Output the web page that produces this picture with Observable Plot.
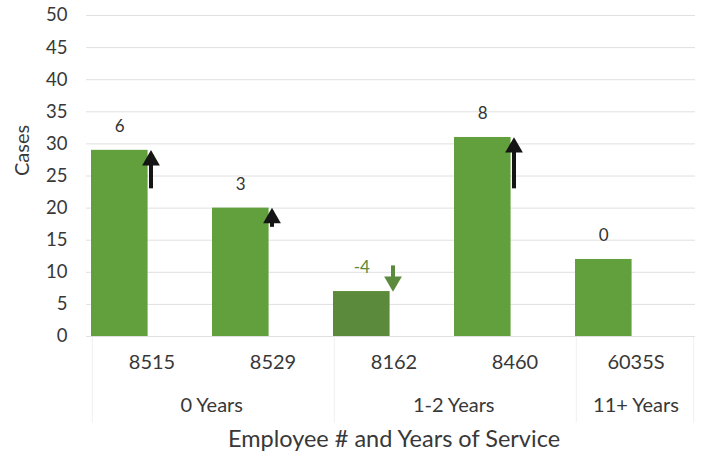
<!DOCTYPE html>
<html><head><meta charset="utf-8">
<script src="https://cdn.jsdelivr.net/npm/d3@7"></script>
<script src="https://cdn.jsdelivr.net/npm/@observablehq/plot@0.6"></script>
<style>body{margin:0;background:#fff;}</style>
</head><body><div id="chart"></div>
<script>
const employees = ["8515", "8529", "8162", "8460", "6035S"];
const cases = [29, 20, 7, 31, 12];
const changes = [6, 3, -4, 8, 0];
const groups = ["0 Years", "0 Years", "1-2 Years", "1-2 Years", "11+ Years"];
const groupNames = ["0 Years", "1-2 Years", "11+ Years"];
const yTicks = [0, 5, 10, 15, 20, 25, 30, 35, 40, 45, 50];
const xTitle = "Employee # and Years of Service";
const yTitle = "Cases";

const green = "#62a03d";
const darkGreen = "#5b8a3c";
const textColor = "#383838";

const rows = employees.map((e, i) => ({employee: e, cases: cases[i], change: changes[i], group: groups[i]}));

const W = 701, H = 464, mL = 89, mR = 3, mT = 15, mB = 128;
const xs = Plot.scale({x: {type: "band", domain: employees, range: [mL, W - mR]}});
const step = xs.step;
const barW = 55;
const shift = -(step - barW) / 2;

const groupMarks = groupNames.map(g => {
  const members = rows.filter(r => r.group === g);
  return Plot.text([g], {
    x: () => members[0].employee, text: d => d,
    frameAnchor: "bottom", dx: (members.length - 1) * step / 2, dy: 75,
    fontSize: 20, fill: textColor
  });
});

const bounds = groupNames.map(g => rows.find(r => r.group === g).employee);

const plot = Plot.plot({
  width: W, height: H,
  marginLeft: mL, marginRight: mR, marginTop: mT, marginBottom: mB,
  style: {fontFamily: "Lato, 'Open Sans', sans-serif", color: textColor, background: "#fff"},
  x: {domain: employees, padding: 0},
  y: {domain: [0, 50]},
  marks: [
    Plot.ruleY(yTicks, {stroke: "#e0e0e0", strokeWidth: 1, dx: -3}),
    Plot.ruleX(bounds, {x: d => d, dx: -step / 2, y1: -0.15, y2: -13.5, stroke: "#f0f0f0"}),
    Plot.ruleX([employees[employees.length - 1]], {x: d => d, dx: step / 2 - 2, y1: -0.15, y2: -13.5, stroke: "#f0f0f0"}),
    Plot.barY(rows, {x: "employee", y: "cases", fill: d => d.change < 0 ? darkGreen : green, insetLeft: 0, insetRight: step - barW}),
    Plot.text(rows, {x: "employee", y: "cases", text: d => String(d.change), dx: shift, dy: -24,
      fontSize: 17, fill: d => d.change < 0 ? darkGreen : "#333"}),
    Plot.ruleX(rows.filter(d => d.change !== 0), {x: "employee", y1: d => d.cases - d.change, y2: d => d.cases - Math.sign(d.change) * 1,
      stroke: d => d.change < 0 ? darkGreen : "#151515", strokeWidth: 4, dx: -1}),
    Plot.dot(rows.filter(d => d.change > 0), {x: "employee", y: "cases", symbol: "triangle", r: 6.6, dy: 10, dx: -1,
      fill: "#151515", stroke: "none"}),
    Plot.dot(rows.filter(d => d.change < 0), {x: "employee", y: "cases", symbol: "triangle", r: 6.6, rotate: 180, dy: -10, dx: -1,
      fill: darkGreen, stroke: "none"}),
    Plot.axisY({ticks: yTicks, tickSize: 0, tickPadding: 22, fontSize: 18.5, label: null}),
    Plot.axisX({tickSize: 0, tickPadding: 18, fontSize: 20, label: null}),
    ...groupMarks,
    Plot.text([xTitle], {frameAnchor: "bottom", dy: 110, fontSize: 23.5, fill: textColor}),
    Plot.text([yTitle], {frameAnchor: "left", rotate: -90, dx: -67, fontSize: 20, fill: textColor})
  ]
});
document.getElementById("chart").appendChild(plot);
</script>
</body></html>
